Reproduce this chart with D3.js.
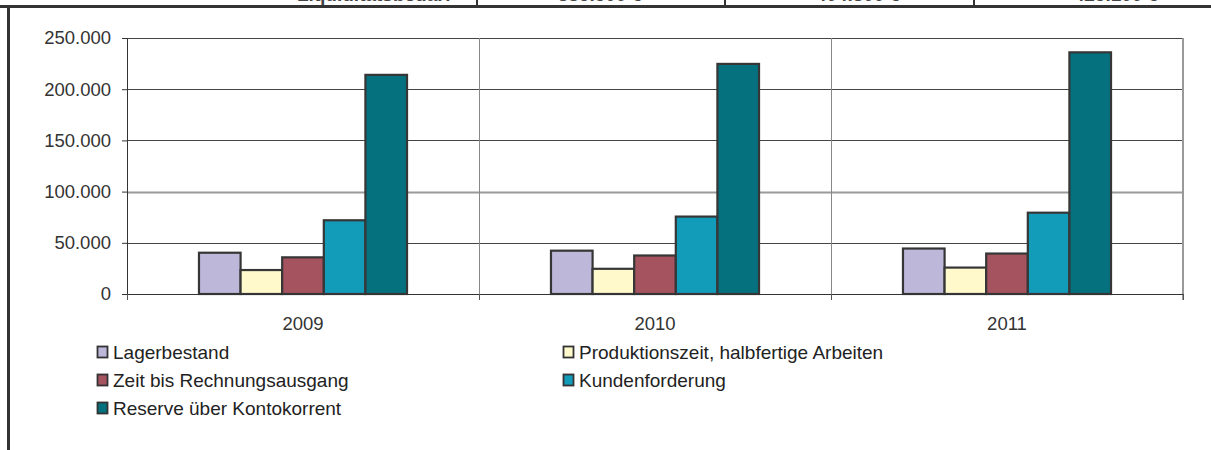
<!DOCTYPE html>
<html>
<head>
<meta charset="utf-8">
<script src="https://cdn.jsdelivr.net/npm/d3@7"></script>
<style>
  body { margin: 0; background: #fff; }
  svg { display: block; font-family: "Liberation Sans", Arial, sans-serif; }
</style>
</head>
<body>
<svg id="chart" width="1211" height="450"></svg>
<script>
// Daten
const years = ["2009", "2010", "2011"];
const seriesNames = [
  "Lagerbestand",
  "Produktionszeit, halbfertige Arbeiten",
  "Zeit bis Rechnungsausgang",
  "Kundenforderung",
  "Reserve über Kontokorrent"
];
const lagerbestand = [40300, 42300, 44400];
const produktionszeit = [23400, 24600, 25800];
const rechnungsausgang = [35800, 37600, 39500];
const kundenforderung = [72000, 75600, 79400];
const reserve = [214000, 224700, 236000];
const yTicks = [0, 50000, 100000, 150000, 200000, 250000];
const headerCells = ["Liquiditätsbedarf", "385.500 €", "404.800 €", "425.100 €"];

const colors = ["#bdb8da", "#fff9cc", "#a65360", "#139bba", "#05717e"];
const seriesValues = [lagerbestand, produktionszeit, rechnungsausgang, kundenforderung, reserve];

const svg = d3.select("#chart");

// abgeschnittene Tabellenzeile oben
const headerX = [451, 600, 858, 1116];
const headerAnchor = ["end", "middle", "middle", "middle"];
svg.selectAll(".hdr")
  .data(headerCells)
  .enter()
  .append("text")
  .attr("class", "hdr")
  .attr("x", (d, i) => headerX[i])
  .attr("y", 1)
  .attr("text-anchor", (d, i) => headerAnchor[i])
  .attr("font-weight", "bold")
  .attr("font-size", 19)
  .attr("fill", "#444")
  .text(d => d);
[477, 725, 974].forEach(x => {
  svg.append("line").attr("x1", x).attr("x2", x).attr("y1", 0).attr("y2", 6)
    .attr("stroke", "#333").attr("stroke-width", 2);
});
svg.append("rect").attr("x", 0).attr("y", 5).attr("width", 1211).attr("height", 3).attr("fill", "#333");
svg.append("rect").attr("x", 7).attr("y", 5).attr("width", 3).attr("height", 445).attr("fill", "#333");

// Plotbereich
const plotLeft = 127, plotRight = 1183, plotTop = 38, plotBottom = 294;

const x0 = d3.scaleBand().domain(years).range([plotLeft, plotRight]).padding(0);
const x1 = d3.scaleBand().domain(seriesNames).range([0, x0.bandwidth()])
  .paddingInner(0).paddingOuter(1.73);
const y = d3.scaleLinear().domain([0, 250000]).range([plotBottom, plotTop]);
const crisp = v => Math.round(v) + 0.5;

// Gitterlinien
svg.append("g")
  .selectAll("line")
  .data(yTicks.filter(d => d > 0))
  .enter()
  .append("line")
  .attr("x1", plotLeft)
  .attr("x2", plotRight)
  .attr("y1", d => crisp(y(d)))
  .attr("y2", d => crisp(y(d)))
  .attr("stroke", d => d === 100000 ? "#9a9a9a" : "#444")
  .attr("stroke-width", d => d === 100000 ? 2 : 1);

// Trennlinien zwischen Kategorien
svg.append("g")
  .selectAll("line")
  .data(years.slice(1))
  .enter()
  .append("line")
  .attr("x1", d => crisp(x0(d)))
  .attr("x2", d => crisp(x0(d)))
  .attr("y1", plotTop)
  .attr("y2", plotBottom + 6)
  .attr("stroke", "#888")
  .attr("stroke-width", 1);
svg.append("line")
  .attr("x1", plotRight).attr("x2", plotRight).attr("y1", plotTop).attr("y2", plotBottom + 6)
  .attr("stroke", "#999").attr("stroke-width", 2);

// Balken
const groups = svg.append("g")
  .selectAll("g")
  .data(years)
  .enter()
  .append("g")
  .attr("transform", d => `translate(${x0(d)},0)`);

groups.selectAll("rect")
  .data((d, i) => seriesNames.map((s, k) => ({ s, k, v: seriesValues[k][i] })))
  .enter()
  .append("rect")
  .attr("x", d => x1(d.s))
  .attr("y", d => y(d.v))
  .attr("width", x1.bandwidth())
  .attr("height", d => plotBottom - y(d.v))
  .attr("fill", d => colors[d.k])
  .attr("stroke", "#363636")
  .attr("stroke-width", 2.2);

// Achsen
const fmt = d => d3.format(",")(d).replace(/,/g, ".");
const yAxis = svg.append("g")
  .attr("transform", `translate(${crisp(plotLeft) - 0.5},0)`)
  .call(d3.axisLeft(y).tickValues(yTicks).tickFormat(fmt).tickSize(5).tickPadding(11));
yAxis.select(".domain").attr("stroke", "#333");
yAxis.selectAll("line").attr("stroke", "#333");
yAxis.selectAll("text").attr("font-size", 18.5).attr("fill", "#333")
  .attr("font-family", "Liberation Sans, Arial, sans-serif");

const xAxis = svg.append("g")
  .attr("transform", `translate(0,${plotBottom})`)
  .call(d3.axisBottom(x0).tickSize(0).tickPadding(23));
xAxis.select(".domain").attr("stroke", "#333");
xAxis.selectAll("text").attr("font-size", 18.5).attr("fill", "#333")
  .attr("font-family", "Liberation Sans, Arial, sans-serif");
svg.append("g")
  .selectAll("line")
  .data([plotLeft].concat(years.map(d => x0(d) + x0.bandwidth())))
  .enter()
  .append("line")
  .attr("x1", d => crisp(d)).attr("x2", d => crisp(d))
  .attr("y1", plotBottom).attr("y2", plotBottom + 6)
  .attr("stroke", "#555");

// Legende
const legendPos = [[97, 352], [563, 352], [97, 380], [563, 380], [97, 408]];
const legend = svg.append("g")
  .selectAll("g")
  .data(seriesNames)
  .enter()
  .append("g")
  .attr("transform", (d, i) => `translate(${legendPos[i][0]},${legendPos[i][1]})`);
legend.append("rect")
  .attr("x", 0.5).attr("y", -5.5).attr("width", 10).attr("height", 11)
  .attr("fill", (d, i) => colors[i])
  .attr("stroke", "#333").attr("stroke-width", 1.8);
legend.append("text")
  .attr("x", 16).attr("y", 7)
  .attr("font-size", 19).attr("fill", "#222")
  .text(d => d);
</script>
</body>
</html>
